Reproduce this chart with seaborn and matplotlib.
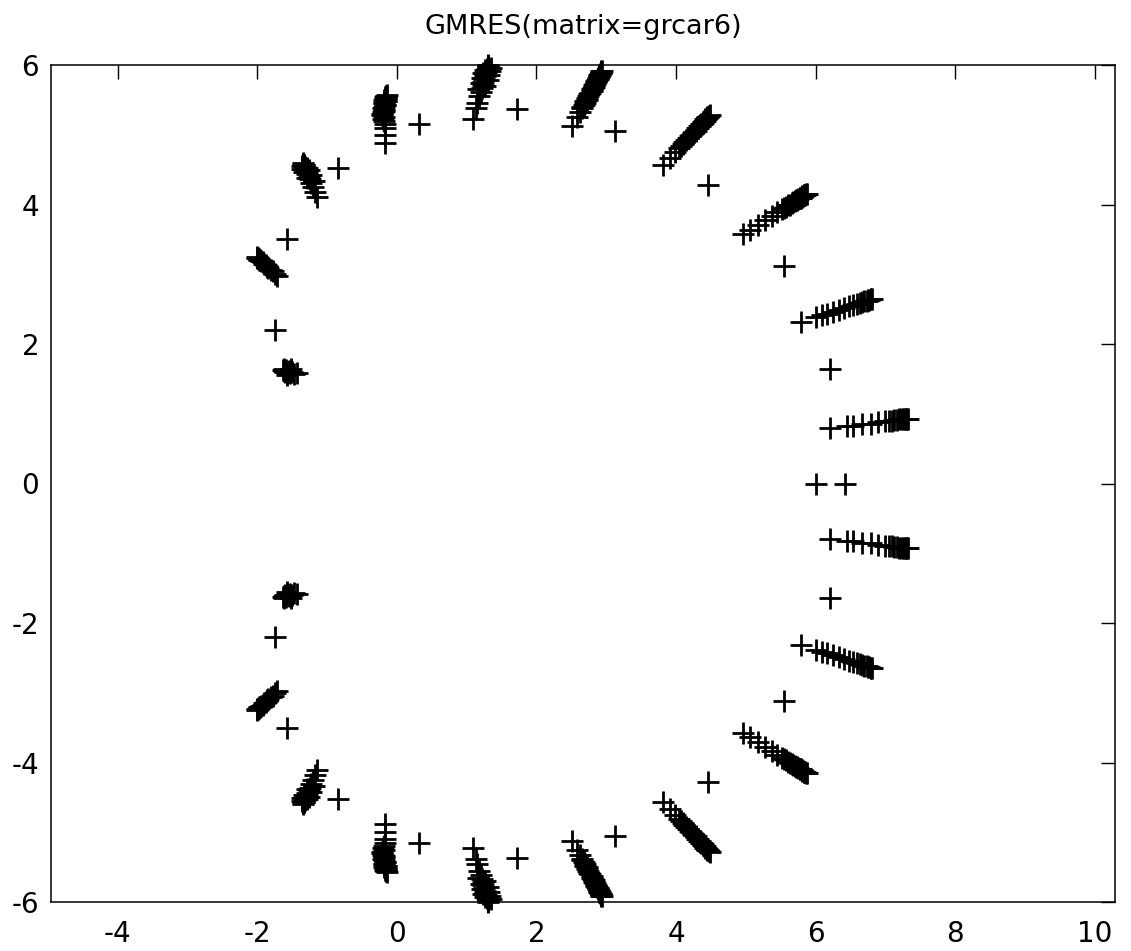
import matplotlib
matplotlib.use("Agg")
import matplotlib.pyplot as plt
import seaborn as sns
import pandas as pd

# ---------------- data (Ritz values, upper half) ----------------
c1_x = [6.21, 6.45, 6.53, 6.66, 6.80, 6.90, 7.00, 7.05, 7.09, 7.13, 7.17, 7.20, 7.23, 7.25, 7.27, 7.29, 7.30, 7.31, 7.32]
c1_y = [0.79, 0.82, 0.83, 0.85, 0.86, 0.88, 0.89, 0.90, 0.90, 0.91, 0.91, 0.92, 0.92, 0.92, 0.92, 0.93, 0.93, 0.93, 0.93]
c2_x = [5.79, 6.00, 6.09, 6.17, 6.25, 6.33, 6.41, 6.48, 6.54, 6.59, 6.63, 6.67, 6.70, 6.73, 6.75, 6.77, 6.79, 6.80, 6.81]
c2_y = [2.31, 2.38, 2.41, 2.43, 2.46, 2.49, 2.51, 2.54, 2.56, 2.57, 2.59, 2.60, 2.61, 2.62, 2.63, 2.63, 2.64, 2.64, 2.65]
c3_x = [4.96, 5.06, 5.18, 5.28, 5.37, 5.45, 5.52, 5.58, 5.63, 5.68, 5.72, 5.75, 5.78, 5.80, 5.82, 5.84, 5.86, 5.87,
        5.55, 5.61, 5.66, 5.70, 5.74, 5.77, 5.79, 5.81, 5.83, 5.85]
c3_y = [3.57, 3.64, 3.71, 3.78, 3.84, 3.89, 3.93, 3.97, 4.00, 4.03, 4.06, 4.08, 4.10, 4.11, 4.12, 4.13, 4.15, 4.15,
        3.95, 3.99, 4.02, 4.05, 4.07, 4.09, 4.10, 4.12, 4.13, 4.14]
c4_x = [3.82, 3.92, 3.99, 4.05, 4.10, 4.15, 4.20, 4.24, 4.28, 4.31, 4.34, 4.37, 4.39, 4.41, 4.43, 4.45, 4.46, 4.47, 4.48,
        4.07, 4.12, 4.17, 4.22, 4.26, 4.30, 4.33, 4.36, 4.38, 4.40, 4.42, 4.44]
c4_y = [4.57, 4.67, 4.75, 4.81, 4.87, 4.92, 4.98, 5.02, 5.06, 5.10, 5.13, 5.16, 5.18, 5.20, 5.23, 5.25, 5.26, 5.27, 5.28,
        4.84, 4.89, 4.95, 5.00, 5.04, 5.09, 5.12, 5.15, 5.17, 5.19, 5.22, 5.24]
c5_x = [2.51, 2.58, 2.62, 2.65, 2.68, 2.70, 2.73, 2.76, 2.79, 2.81, 2.83, 2.85, 2.87, 2.88, 2.90, 2.91, 2.92, 2.93, 2.94,
        2.66, 2.69, 2.72, 2.74, 2.77, 2.80, 2.82, 2.84, 2.86, 2.88, 2.89, 2.90, 2.91, 2.92, 2.93]
c5_y = [5.12, 5.26, 5.33, 5.38, 5.43, 5.48, 5.53, 5.58, 5.63, 5.67, 5.71, 5.75, 5.78, 5.81, 5.84, 5.86, 5.88, 5.90, 5.92,
        5.40, 5.45, 5.50, 5.55, 5.60, 5.65, 5.69, 5.73, 5.77, 5.80, 5.83, 5.85, 5.87, 5.89, 5.91]
c6_x = [1.09, 1.13, 1.15, 1.18, 1.20, 1.22, 1.23, 1.24, 1.25, 1.27, 1.27, 1.28, 1.29, 1.29, 1.30, 1.30, 1.31, 1.31, 1.31,
        1.17, 1.27, 1.20, 1.30, 1.22, 1.32, 1.24, 1.34, 1.26, 1.35]
c6_y = [5.23, 5.38, 5.45, 5.55, 5.62, 5.67, 5.72, 5.76, 5.80, 5.84, 5.87, 5.90, 5.92, 5.94, 5.96, 5.97, 5.98, 5.99, 6.00,
        5.65, 5.70, 5.74, 5.78, 5.82, 5.86, 5.89, 5.91, 5.93, 5.95]
c7_x = [-0.17, -0.17, -0.17, -0.17, -0.18, -0.20, -0.21, -0.20, -0.19, -0.18, -0.17, -0.18, -0.16, -0.17, -0.15, -0.16, -0.15, -0.14,
        -0.19, -0.21, -0.18, -0.20, -0.17, -0.19, -0.16, -0.18, -0.15, -0.17]
c7_y = [4.88, 5.00, 5.09, 5.15, 5.19, 5.23, 5.28, 5.32, 5.36, 5.40, 5.43, 5.46, 5.49, 5.51, 5.53, 5.55, 5.56, 5.57,
        5.25, 5.30, 5.34, 5.38, 5.42, 5.45, 5.48, 5.50, 5.52, 5.54]
c8_x = [-1.14, -1.17, -1.20, -1.23, -1.25, -1.26, -1.28, -1.29, -1.30, -1.31, -1.32, -1.33, -1.33, -1.34, -1.34,
        -1.19, -1.29, -1.23, -1.33, -1.26, -1.36, -1.29, -1.36]
c8_y = [4.11, 4.18, 4.25, 4.31, 4.36, 4.40, 4.44, 4.47, 4.50, 4.52, 4.54, 4.56, 4.57, 4.58, 4.59,
        4.33, 4.38, 4.42, 4.46, 4.49, 4.51, 4.53, 4.55]
c9_x = [-1.72, -1.75, -1.78, -1.81, -1.84, -1.86, -1.88, -1.90, -1.92, -1.94, -1.96, -1.97, -1.98, -1.99, -2.00, -2.01]
c9_y = [2.98, 3.01, 3.04, 3.06, 3.09, 3.11, 3.13, 3.15, 3.17, 3.19, 3.20, 3.21, 3.22, 3.23, 3.24, 3.25]
c10_x = [-1.43, -1.47, -1.50, -1.53, -1.55, -1.57, -1.59, -1.60, -1.61, -1.62, -1.63, -1.52, -1.58]
c10_y = [1.58, 1.57, 1.60, 1.58, 1.62, 1.59, 1.63, 1.60, 1.64, 1.61, 1.63, 1.64, 1.56]
iso_x = [6.42, 6.00, 6.21, 5.55, 4.46, 3.13, 1.72, 0.32, -0.84, -1.58, -1.74]
iso_y = [0.00, 0.00, 1.64, 3.12, 4.28, 5.05, 5.37, 5.15, 4.52, 3.50, 2.20]

# ---------------- data (lower half, conjugate values) ----------------
c1_y_lo = [-0.79, -0.82, -0.83, -0.85, -0.86, -0.88, -0.89, -0.90, -0.90, -0.91, -0.91, -0.92, -0.92, -0.92, -0.92, -0.93, -0.93, -0.93, -0.93]
c2_y_lo = [-2.31, -2.38, -2.41, -2.43, -2.46, -2.49, -2.51, -2.54, -2.56, -2.57, -2.59, -2.60, -2.61, -2.62, -2.63, -2.63, -2.64, -2.64, -2.65]
c3_y_lo = [-3.57, -3.64, -3.71, -3.78, -3.84, -3.89, -3.93, -3.97, -4.00, -4.03, -4.06, -4.08, -4.10, -4.11, -4.12, -4.13, -4.15, -4.15,
           -3.95, -3.99, -4.02, -4.05, -4.07, -4.09, -4.10, -4.12, -4.13, -4.14]
c4_y_lo = [-4.57, -4.67, -4.75, -4.81, -4.87, -4.92, -4.98, -5.02, -5.06, -5.10, -5.13, -5.16, -5.18, -5.20, -5.23, -5.25, -5.26, -5.27, -5.28,
           -4.84, -4.89, -4.95, -5.00, -5.04, -5.09, -5.12, -5.15, -5.17, -5.19, -5.22, -5.24]
c5_y_lo = [-5.12, -5.26, -5.33, -5.38, -5.43, -5.48, -5.53, -5.58, -5.63, -5.67, -5.71, -5.75, -5.78, -5.81, -5.84, -5.86, -5.88, -5.90, -5.92,
           -5.40, -5.45, -5.50, -5.55, -5.60, -5.65, -5.69, -5.73, -5.77, -5.80, -5.83, -5.85, -5.87, -5.89, -5.91]
c6_y_lo = [-5.23, -5.38, -5.45, -5.55, -5.62, -5.67, -5.72, -5.76, -5.80, -5.84, -5.87, -5.90, -5.92, -5.94, -5.96, -5.97, -5.98, -5.99, -6.00,
           -5.65, -5.70, -5.74, -5.78, -5.82, -5.86, -5.89, -5.91, -5.93, -5.95]
c7_y_lo = [-4.88, -5.00, -5.09, -5.15, -5.19, -5.23, -5.28, -5.32, -5.36, -5.40, -5.43, -5.46, -5.49, -5.51, -5.53, -5.55, -5.56, -5.57,
           -5.25, -5.30, -5.34, -5.38, -5.42, -5.45, -5.48, -5.50, -5.52, -5.54]
c8_y_lo = [-4.11, -4.18, -4.25, -4.31, -4.36, -4.40, -4.44, -4.47, -4.50, -4.52, -4.54, -4.56, -4.57, -4.58, -4.59,
           -4.33, -4.38, -4.42, -4.46, -4.49, -4.51, -4.53, -4.55]
c9_y_lo = [-2.98, -3.01, -3.04, -3.06, -3.09, -3.11, -3.13, -3.15, -3.17, -3.19, -3.20, -3.21, -3.22, -3.23, -3.24, -3.25]
c10_y_lo = [-1.58, -1.57, -1.60, -1.58, -1.62, -1.59, -1.63, -1.60, -1.64, -1.61, -1.63, -1.64, -1.56]
iso_lo_x = [6.21, 5.55, 4.46, 3.13, 1.72, 0.32, -0.84, -1.58, -1.74]
iso_lo_y = [-1.64, -3.12, -4.28, -5.05, -5.37, -5.15, -4.52, -3.50, -2.20]

title_text = "GMRES(matrix=grcar6)"
x_ticks = [-4, -2, 0, 2, 4, 6, 8, 10]
y_ticks = [-6, -4, -2, 0, 2, 4, 6]

# ---------------- assemble ----------------
xs_up = [c1_x, c2_x, c3_x, c4_x, c5_x, c6_x, c7_x, c8_x, c9_x, c10_x, iso_x]
ys_up = [c1_y, c2_y, c3_y, c4_y, c5_y, c6_y, c7_y, c8_y, c9_y, c10_y, iso_y]
xs_lo = [c1_x, c2_x, c3_x, c4_x, c5_x, c6_x, c7_x, c8_x, c9_x, c10_x, iso_lo_x]
ys_lo = [c1_y_lo, c2_y_lo, c3_y_lo, c4_y_lo, c5_y_lo, c6_y_lo, c7_y_lo, c8_y_lo, c9_y_lo, c10_y_lo, iso_lo_y]

all_x, all_y = [], []
for xl, yl in zip(xs_up + xs_lo, ys_up + ys_lo):
    all_x.extend(xl)
    all_y.extend(yl)
df = pd.DataFrame({"re": all_x, "im": all_y})

# ---------------- plot ----------------
sns.set_theme(style="white")
plt.rcParams["font.family"] = ["DejaVu Sans"]
plt.rcParams["axes.unicode_minus"] = False

fig = plt.figure(figsize=(11.31, 9.51), dpi=100)
ax = fig.add_axes([51 / 1131, 1 - 902 / 951, (1115 - 51) / 1131, (902 - 65) / 951])

sns.scatterplot(data=df, x="re", y="im", marker="+", s=230, color="black",
                linewidth=2.0, ax=ax, clip_on=False, legend=False, zorder=3)

ax.set_xlim(-4.955, 10.29)
ax.set_ylim(-6, 6)
ax.set_xticks(x_ticks)
ax.set_yticks(y_ticks)
ax.set_xticklabels([str(t) for t in x_ticks])
ax.set_yticklabels([str(t) for t in y_ticks])
ax.set_xlabel("")
ax.set_ylabel("")

for sp in ax.spines.values():
    sp.set_visible(True)
    sp.set_color("black")
    sp.set_linewidth(1.1)

ax.tick_params(axis="both", which="both", direction="in", top=True, right=True,
               length=10, width=1.0, colors="black", labelsize=20)
ax.tick_params(axis="x", pad=13)
ax.tick_params(axis="y", pad=8.5)

ax.set_title(title_text, fontsize=19.5, pad=22, color="black")

fig.savefig("out.png", dpi=100, facecolor="white")
